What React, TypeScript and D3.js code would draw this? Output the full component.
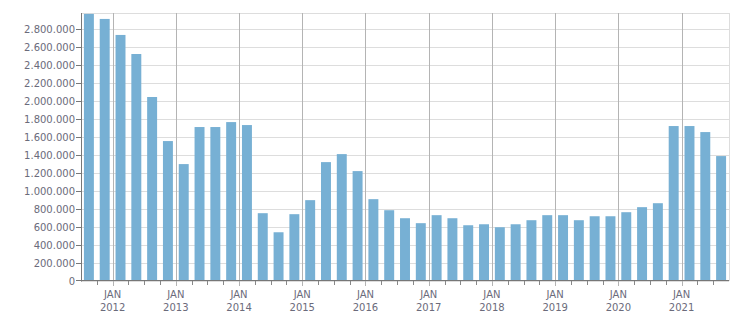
import React from "react";
import * as d3 from "d3";

const quarters: string[] = [
  "2011Q3","2011Q4",
  "2012Q1","2012Q2","2012Q3","2012Q4",
  "2013Q1","2013Q2","2013Q3","2013Q4",
  "2014Q1","2014Q2","2014Q3","2014Q4",
  "2015Q1","2015Q2","2015Q3","2015Q4",
  "2016Q1","2016Q2","2016Q3","2016Q4",
  "2017Q1","2017Q2","2017Q3","2017Q4",
  "2018Q1","2018Q2","2018Q3","2018Q4",
  "2019Q1","2019Q2","2019Q3","2019Q4",
  "2020Q1","2020Q2","2020Q3","2020Q4",
  "2021Q1","2021Q2","2021Q3",
];

const values: number[] = [
  2970000, 2914000,
  2736000, 2524000, 2046000, 1556000,
  1300000, 1712000, 1712000, 1767000,
  1734000, 754000, 542000, 743000,
  899000, 1322000, 1411000, 1222000,
  910000, 787000, 698000, 643000,
  732000, 698000, 620000, 631000,
  598000, 631000, 676000, 732000,
  732000, 676000, 720000, 720000,
  765000, 821000, 865000, 1723000,
  1723000, 1656000, 1389000,
];

const yTicks: number[] = [0, 200000, 400000, 600000, 800000, 1000000, 1200000, 1400000, 1600000, 1800000, 2000000, 2200000, 2400000, 2600000, 2800000];
const yMax = 2980000;

const W = 751, H = 313;
const L = 81, R = 729, T = 13, B = 281;

const fmt = (v: number) => d3.format(",")(v).replace(/,/g, ".");

export default function App() {
  const x = d3.scaleBand<string>().domain(quarters).range([L, R]).paddingInner(0).paddingOuter(0);
  const y = d3.scaleLinear().domain([0, yMax]).range([B, T]);
  const bw = x.bandwidth();
  const barW = bw * 0.63;
  const font = "'DejaVu Sans', Verdana, sans-serif";
  const textColor = "#6b6b7b";
  const crisp = (v: number) => Math.round(v) + 0.5;

  const boundaries = quarters.slice(1).map((q) => ({ q, x: x(q)! }));

  return (
    <svg width={W} height={H} style={{ position: "absolute", left: 0, top: 0, background: "#fff" }}>
      {/* horizontal grid */}
      {yTicks.map((t) => (
        <line key={"g" + t} x1={L} x2={R} y1={crisp(y(t))} y2={crisp(y(t))} stroke="#dddddd" strokeWidth={1} />
      ))}
      <line x1={L} x2={R} y1={crisp(T)} y2={crisp(T)} stroke="#dddddd" />
      <line x1={crisp(R)} x2={crisp(R)} y1={T} y2={B} stroke="#dddddd" />
      {/* vertical JAN grid */}
      {boundaries.filter((b) => b.q.endsWith("Q1")).map((b) => (
        <line key={"v" + b.q} x1={crisp(b.x)} x2={crisp(b.x)} y1={T} y2={B + 5} stroke="#b4b4b4" strokeWidth={1} />
      ))}
      {/* bars */}
      {quarters.map((q, i) => (
        <rect key={q} x={x(q)! + (bw - barW) / 2} y={y(values[i])} width={barW} height={y(0) - y(values[i])} fill="#77b0d4" />
      ))}
      {/* quarter ticks */}
      {boundaries.filter((b) => !b.q.endsWith("Q1")).map((b) => (
        <line key={"t" + b.q} x1={crisp(b.x)} x2={crisp(b.x)} y1={B} y2={B + 4} stroke="#888" />
      ))}
      {/* axes */}
      <line x1={crisp(L)} x2={crisp(L)} y1={T} y2={B + 0.5} stroke="#777" />
      <line x1={L} x2={R} y1={crisp(B) - 1} y2={crisp(B) - 1} stroke="#777" />
      {/* y ticks + labels */}
      {yTicks.map((t) => (
        <g key={"y" + t}>
          <line x1={L - 5} x2={L} y1={crisp(y(t)) - (t === 0 ? 1 : 0)} y2={crisp(y(t)) - (t === 0 ? 1 : 0)} stroke="#777" />
          <text x={L - 6} y={y(t)} dy="0.35em" textAnchor="end" fontFamily={font} fontSize={10} fill={textColor}>
            {fmt(t)}
          </text>
        </g>
      ))}
      {/* x labels */}
      {boundaries.filter((b) => b.q.endsWith("Q1")).map((b) => (
        <g key={"xl" + b.q}>
          <text x={b.x} y={298} textAnchor="middle" fontFamily={font} fontSize={10} fill={textColor}>JAN</text>
          <text x={b.x} y={311} textAnchor="middle" fontFamily={font} fontSize={10} fill={textColor}>{b.q.slice(0, 4)}</text>
        </g>
      ))}
    </svg>
  );
}
